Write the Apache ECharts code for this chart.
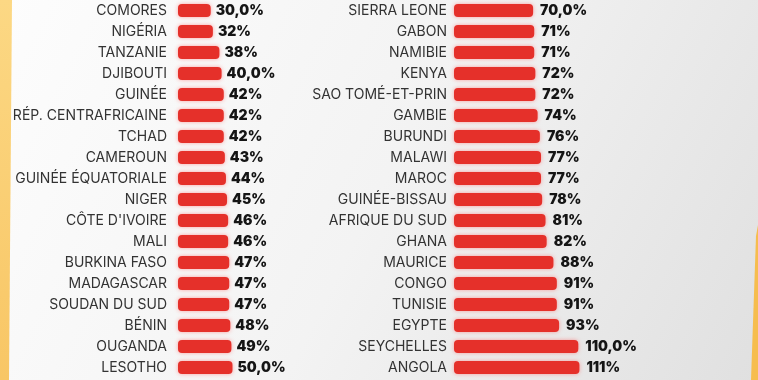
<!DOCTYPE html>
<html><head><meta charset="utf-8">
<script src="https://cdn.jsdelivr.net/npm/echarts@6/dist/echarts.min.js"></script>
<style>html,body{margin:0;padding:0;}#c{width:758px;height:380px;}</style>
</head><body><div id="c"></div>
<script>
const leftCategories = ["COMORES","NIGÉRIA","TANZANIE","DJIBOUTI","GUINÉE","RÉP. CENTRAFRICAINE","TCHAD","CAMEROUN","GUINÉE ÉQUATORIALE","NIGER","CÔTE D'IVOIRE","MALI","BURKINA FASO","MADAGASCAR","SOUDAN DU SUD","BÉNIN","OUGANDA","LESOTHO"];
const leftValues = [30,32,38,40,42,42,42,43,44,45,46,46,47,47,47,48,49,50];
const leftLabels = ["30,0%","32%","38%","40,0%","42%","42%","42%","43%","44%","45%","46%","46%","47%","47%","47%","48%","49%","50,0%"];
const rightCategories = ["SIERRA LEONE","GABON","NAMIBIE","KENYA","SAO TOMÉ-ET-PRIN","GAMBIE","BURUNDI","MALAWI","MAROC","GUINÉE-BISSAU","AFRIQUE DU SUD","GHANA","MAURICE","CONGO","TUNISIE","EGYPTE","SEYCHELLES","ANGOLA"];
const rightValues = [70,71,71,72,72,74,76,77,77,78,81,82,88,91,91,93,110,111];
const rightLabels = ["70,0%","71%","71%","72%","72%","74%","76%","77%","77%","78%","81%","82%","88%","91%","91%","93%","110,0%","111%"];

const chart = echarts.init(document.getElementById('c'));
const catFont = {fontFamily:'Inter', fontSize:14, color:'#333333', fontWeight:400};
const valFont = {fontFamily:'Inter', fontSize:14, color:'#151515', fontWeight:900};
function barSeries(idx, vals, labels, dist){
  return {
    type:'bar', xAxisIndex:idx, yAxisIndex:idx, data:vals, barWidth:13, clip:false,
    itemStyle:{color:'#e5302a', borderRadius:4, shadowColor:'rgba(255,90,90,0.55)', shadowBlur:4},
    label:{show:true, position:'right', distance:dist, formatter:p=>labels[p.dataIndex], ...valFont},
    silent:true, animation:false
  };
}
function yAx(idx, cats, margin){
  return {type:'category', gridIndex:idx, data:cats, inverse:true,
    axisLine:{show:false}, axisTick:{show:false}, axisLabel:{margin:margin, ...catFont}};
}
function xAx(idx){
  return {type:'value', gridIndex:idx, min:0, max:100, show:false};
}
chart.setOption({
  backgroundColor:{type:'linear', x:0, y:0, x2:1, y2:1, colorStops:[{offset:0,color:'#fdfdfd'},{offset:0.5,color:'#f3f3f3'},{offset:1,color:'#e0e0e0'}]},
  grid:[{left:178, top:0, width:109, height:378},{left:454, top:0, width:113, height:378}],
  xAxis:[xAx(0), xAx(1)],
  yAxis:[yAx(0,leftCategories,11), yAx(1,rightCategories,7)],
  series:[barSeries(0,leftValues,leftLabels,5), barSeries(1,rightValues,rightLabels,7)],
  graphic:[
    {type:'polygon', shape:{points:[[0,0],[12,0],[9,380],[0,380]]}, style:{fill:{type:'linear',x:0,y:0,x2:0,y2:1,colorStops:[{offset:0,color:'#fcd884'},{offset:1,color:'#f8c665'}]}}, silent:true},
    {type:'polygon', shape:{points:[[758,225],[758,380],[751,380],[756,236]]}, style:{fill:'#f6bd4e'}, silent:true}
  ],
  animation:false
});
</script></body></html>
